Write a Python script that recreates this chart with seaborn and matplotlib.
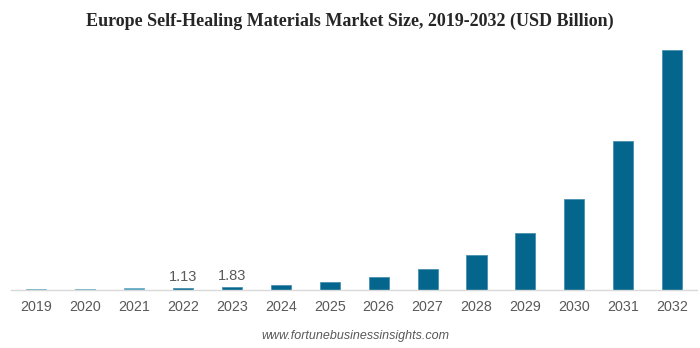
import matplotlib
matplotlib.use("Agg")
import matplotlib.pyplot as plt
import seaborn as sns
import pandas as pd

years = ["2019", "2020", "2021", "2022", "2023", "2024", "2025",
         "2026", "2027", "2028", "2029", "2030", "2031", "2032"]
market_size = [0.75, 0.75, 0.95, 1.13, 1.83, 3.0, 4.85,
               8.1, 12.9, 21.0, 34.4, 55.6, 90.3, 146.0]
labelled_years = ["2022", "2023"]
historic_years = ["2019", "2020", "2021"]

df = pd.DataFrame({"year": years, "size": market_size})
colors = ["#4d9dbb" if y in historic_years else "#05668d" for y in years]
edges = ["#6aaec8" if y in historic_years else "#4a90b0" for y in years]

sns.set_theme(style="white")
plt.rcParams["font.family"] = ["Liberation Sans", "DejaVu Sans"]

fig = plt.figure(figsize=(7.0, 3.48), dpi=100)
ax = fig.add_axes([0.016, 0.1667, 0.98, 0.6925])

sns.barplot(data=df, x="year", y="size", hue="year", palette=colors,
            legend=False, width=0.41, ax=ax, saturation=1, linewidth=0.6)
for patch, ec in zip(ax.patches, edges):
    patch.set_edgecolor(ec)

ax.set_xlim(-0.51, len(years) - 0.49)
ax.set_ylim(0, 146.5)
ax.set_xlabel("")
ax.set_ylabel("")
ax.set_yticks([])
for side in ["left", "right", "top"]:
    ax.spines[side].set_visible(False)
ax.spines["bottom"].set_color("#d9d9d9")
ax.spines["bottom"].set_linewidth(1.0)
ax.tick_params(axis="x", length=0, pad=7, labelsize=10.3, labelcolor="#595959")

for i, (y, v) in enumerate(zip(years, market_size)):
    if y in labelled_years:
        ax.annotate(f"{v:.2f}", (i, v), xytext=(0, 3), textcoords="offset points",
                    ha="center", va="bottom", fontsize=10.5, color="#595959")

fig.text(0.5, 0.94, "Europe Self-Healing Materials Market Size, 2019-2032 (USD Billion)",
         ha="center", va="center", fontsize=13, fontweight="bold",
         family=["Liberation Serif", "DejaVu Serif"], color="#262626")
fig.text(0.507, 0.035, "www.fortunebusinessinsights.com", ha="center", va="center",
         fontsize=9, style="italic", color="#595959")

fig.savefig("out.png", dpi=100)
